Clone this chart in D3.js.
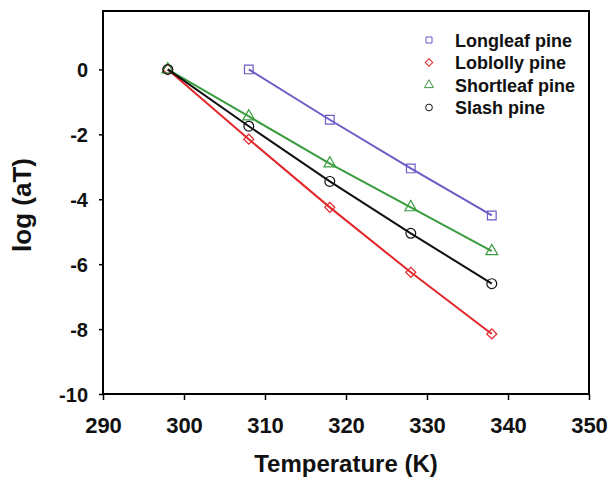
<!DOCTYPE html>
<html><head><meta charset="utf-8">
<script src="https://cdn.jsdelivr.net/npm/d3@7"></script>
<style>body{margin:0;background:#fff}svg{display:block}text{font-family:Arial,"Liberation Sans",sans-serif;font-weight:bold}</style>
</head><body><svg id="c" width="609" height="483"></svg>
<script>
const temps = [298, 308, 318, 328, 338];
const longleaf = [null, 0, -1.55, -3.05, -4.5];
const loblolly = [0, -2.15, -4.25, -6.25, -8.15];
const shortleaf = [0, -1.45, -2.9, -4.25, -5.6];
const slash = [0, -1.75, -3.45, -5.05, -6.6];
const seriesNames = ["Longleaf pine", "Loblolly pine", "Shortleaf pine", "Slash pine"];
const xTicks = [290, 300, 310, 320, 330, 340, 350];
const yTicks = [0, -2, -4, -6, -8, -10];

const series = [
  {name: seriesNames[0], vals: longleaf, color: "#6b5bc4", sym: d3.symbolSquare, rot: 0},
  {name: seriesNames[1], vals: loblolly, color: "#e3262a", sym: d3.symbolSquare, rot: 45},
  {name: seriesNames[2], vals: shortleaf, color: "#3a9c3e", sym: d3.symbolTriangle, rot: 0},
  {name: seriesNames[3], vals: slash, color: "#111111", sym: d3.symbolCircle, rot: 0}
];

const svg = d3.select("#c");
const L = 103, R = 589, T = 11, B = 394;
const x = d3.scaleLinear().domain([290, 350]).range([L, R]);
const y = d3.scaleLinear().domain([-10, 1.8]).range([B, T]);

svg.append("rect").attr("x", L).attr("y", T).attr("width", R - L).attr("height", B - T)
  .attr("fill", "none").attr("stroke", "#000").attr("stroke-width", 2);

const xa = svg.append("g").attr("transform", `translate(0,${B})`)
  .call(d3.axisBottom(x).tickValues(xTicks).tickSize(6).tickFormat(d => String(d)));
xa.select(".domain").remove();
xa.selectAll("line").attr("stroke-width", 1.5);
xa.selectAll("text").attr("font-size", 22).attr("fill", "#111").attr("y", 39).attr("dy", 0);

const ya = svg.append("g").attr("transform", `translate(${L},0)`)
  .call(d3.axisLeft(y).tickValues(yTicks).tickSize(4).tickPadding(11).tickFormat(d => String(d)));
ya.select(".domain").remove();
ya.selectAll("line").attr("stroke-width", 1.5);
ya.selectAll("text").attr("font-size", 20).attr("fill", "#111").attr("dy", "0.36em");

svg.append("text").attr("x", 346).attr("y", 472).attr("text-anchor", "middle")
  .attr("font-size", 24).attr("fill", "#111").text("Temperature (K)");
svg.append("text").attr("transform", "translate(31,205) rotate(-90)").attr("text-anchor", "middle")
  .attr("font-size", 26).attr("fill", "#111").text("log (aT)");

const line = d3.line().x(d => x(d[0])).y(d => y(d[1]));
series.forEach(s => {
  const pts = temps.map((t, i) => [t, s.vals[i]]).filter(d => d[1] !== null);
  svg.append("path").datum(pts).attr("d", line).attr("fill", "none")
    .attr("stroke", s.color).attr("stroke-width", 2);
  const size = s.sym === d3.symbolTriangle ? 60 : (s.rot ? 50 : 75);
  svg.selectAll(null).data(pts).enter().append("path")
    .attr("d", d3.symbol().type(s.sym).size(size))
    .attr("transform", d => `translate(${x(d[0])},${y(d[1])}) rotate(${s.rot})`)
    .attr("fill", "none").attr("stroke", s.color).attr("stroke-width", 1.2);
});

series.forEach((s, i) => {
  const yy = 40 + i * 22.5;
  svg.append("path").attr("d", d3.symbol().type(s.sym).size(s.rot ? 28 : 36))
    .attr("transform", `translate(429,${yy}) rotate(${s.rot})`)
    .attr("fill", "none").attr("stroke", s.color).attr("stroke-width", 1);
  svg.append("text").attr("x", 455).attr("y", yy + 6.5).attr("font-size", 18)
    .attr("fill", "#111").text(s.name);
});
</script></body></html>
